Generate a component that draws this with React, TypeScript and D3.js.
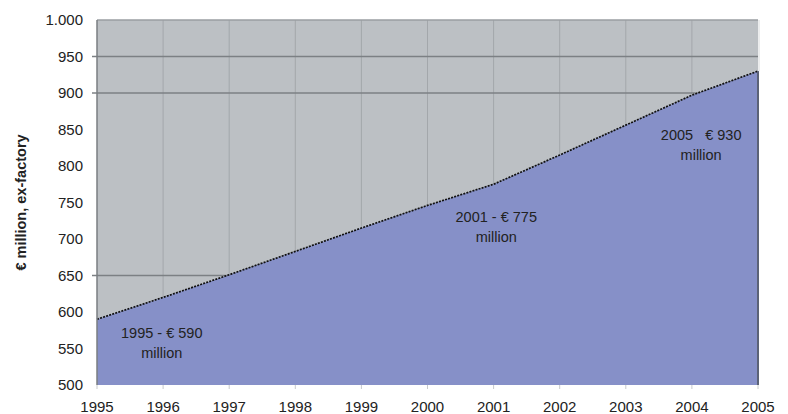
import React from "react";
import * as d3 from "d3";

const years = [1995, 1996, 1997, 1998, 1999, 2000, 2001, 2002, 2003, 2004, 2005];
const values = [590, 620, 651, 683, 715, 746, 775, 815, 856, 897, 930];
const yTicks = [500, 550, 600, 650, 700, 750, 800, 850, 900, 950, 1000];
const yTickLabels = ["500", "550", "600", "650", "700", "750", "800", "850", "900", "950", "1.000"];
const gridValues = [950, 900, 650];
const annotations = [
  { year: 1995.98, value: 564, lines: ["1995 - € 590", "million"] },
  { year: 2001.04, value: 723, lines: ["2001 - € 775", "million"] },
  { year: 2004.14, value: 835, lines: ["2005   € 930", "million"] },
];
const yTitle = "€ million, ex-factory";

export default function App() {
  const W = 788, H = 414;
  const left = 97, right = 758, top = 20, bottom = 385;
  const x = d3.scaleLinear().domain([1995, 2005]).range([left, right]);
  const y = d3.scaleLinear().domain([500, 1000]).range([bottom, top]);
  const data = years.map((yr, i) => ({ yr, v: values[i] }));
  const area = d3.area<{ yr: number; v: number }>().x(d => x(d.yr)).y0(y(500)).y1(d => y(d.v))(data) || "";
  const line = d3.line<{ yr: number; v: number }>().x(d => x(d.yr)).y(d => y(d.v))(data) || "";
  const font = "'Liberation Sans', Arial, sans-serif";
  return (
    <svg width={W} height={H} style={{ position: "absolute", left: 0, top: 0, background: "#fff" }} fontFamily={font}>
      <rect x={left} y={top} width={right - left} height={bottom - top} fill="#bcc0c4" />
      {years.slice(1, -1).map(yr => (
        <line key={yr} x1={x(yr)} x2={x(yr)} y1={top} y2={bottom} stroke="#a3a7ab" strokeWidth={1} />
      ))}
      {gridValues.map(v => (
        <line key={v} x1={left - 5} x2={right} y1={y(v)} y2={y(v)} stroke="#7c8084" strokeWidth={1.5} />
      ))}
      <line x1={left} x2={right} y1={top} y2={top} stroke="#9a9ea2" strokeWidth={1.5} />
      <path d={area} fill="#8690c8" />
      <path d={line} fill="none" stroke="#111" strokeWidth={1.7} strokeDasharray="2,1.2" />
      <line x1={right} x2={right} y1={y(values[values.length - 1])} y2={bottom} stroke="#5c6378" strokeWidth={2} />
      <line x1={right + 1} x2={right + 1} y1={top} y2={y(values[values.length - 1])} stroke="#d8dadc" strokeWidth={1} />
      <line x1={left} x2={left} y1={top} y2={bottom} stroke="#7a7e82" strokeWidth={1.5} />
      {years.map(yr => (
        <line key={"t" + yr} x1={x(yr)} x2={x(yr)} y1={bottom} y2={bottom + 4} stroke="#c8cacc" strokeWidth={1} />
      ))}
      {yTicks.map((v, i) => (
        <text key={v} x={83} y={y(v)} dy="0.35em" textAnchor="end" fontSize={15} fill="#222">{yTickLabels[i]}</text>
      ))}
      {years.map(yr => (
        <text key={"l" + yr} x={x(yr)} y={412} textAnchor="middle" fontSize={15} fill="#222">{yr}</text>
      ))}
      {annotations.map((a, i) => (
        <text key={i} x={x(a.year)} y={y(a.value)} textAnchor="middle" fontSize={14.5} fill="#222" style={{ whiteSpace: "pre" }}>
          {a.lines.map((l, j) => (
            <tspan key={j} x={x(a.year)} dy={j === 0 ? 0 : 20}>{l}</tspan>
          ))}
        </text>
      ))}
      <text transform={`translate(26,${(top + bottom) / 2}) rotate(-90)`} textAnchor="middle" fontSize={14.5} fontWeight="bold" fill="#222">{yTitle}</text>
    </svg>
  );
}
